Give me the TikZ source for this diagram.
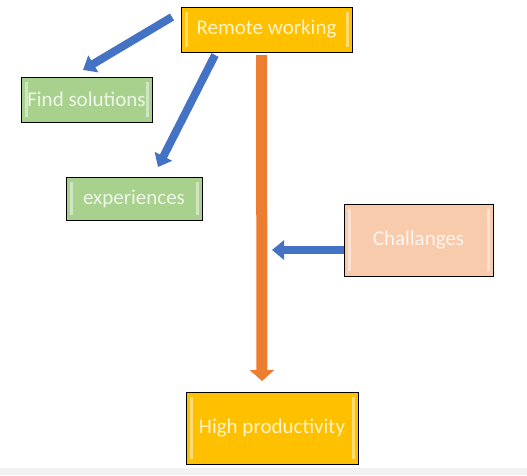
\documentclass[tikz,border=0pt]{standalone}
\usepackage{fontspec}
\setmainfont{Carlito}
\usetikzlibrary{arrows.meta,calc,positioning}

\definecolor{boxgold}{HTML}{FFC000}
\definecolor{boxgreen}{HTML}{A9D18E}
\definecolor{boxpeach}{HTML}{F8CBAD}
\definecolor{arrblue}{HTML}{4472C4}
\definecolor{arrorange}{HTML}{ED7D31}

\begin{document}
\begin{tikzpicture}[
        x=1pt, y=-1pt,
        every node/.style={font=\fontsize{21}{25}\selectfont},
        box/.style={draw=black, line width=1pt, fill=#1, text=white!80!#1,
            inner sep=0pt, outer sep=0pt,
            path picture={
                \draw[white!45!#1, line width=3pt]
                    ([xshift=5pt,yshift=-5pt]path picture bounding box.north west) --
                    ([xshift=5pt,yshift=5pt]path picture bounding box.south west);
                \draw[white!45!#1, line width=3pt]
                    ([xshift=-5pt,yshift=-5pt]path picture bounding box.north east) --
                    ([xshift=-5pt,yshift=5pt]path picture bounding box.south east);
            }},
        blue arrow/.style={arrblue, line width=8pt, -{Triangle[length=12pt,width=19pt]}},
        orange arrow/.style={arrorange, line width=11pt, -{Triangle[length=11pt,width=24pt]}}
    ]
    % page and bottom strip
    \useasboundingbox (0,0) rectangle (527,475);
    \fill[white] (0,0) rectangle (527,475);
    \fill[black!5] (0,468) rectangle (527,475);
    % boxes
    \node[box=boxgold, minimum width=171pt, minimum height=45pt] (rw) at (266.5,29.5) {Remote working};
    \node[box=boxgreen, minimum width=131pt, minimum height=45pt] (fs) at (86.5,99.5) {Find solutions};
    \node[box=boxgreen, minimum width=136pt, minimum height=43pt] (ex) at (134,198.5) {experiences};
    \node[box=boxpeach, minimum width=149pt, minimum height=72pt] (ch) at (418.5,240) {Challanges};
    \node[box=boxgold, minimum width=172pt, minimum height=72pt] (hp) at (272,428) {High productivity};
    % arrows
    \draw[orange arrow] ($(rw.south)+(-5,3)$) -- ($(hp.north)+(-10,-11)$);
    \draw[blue arrow] ($(rw.west)+(-9,-12.5)$) -- ($(fs.north)+(-3.5,-7)$);
    \draw[blue arrow] ($(rw.south)+(-51.5,3)$) -- ($(ex.north)+(24,-10)$);
    \draw[blue arrow] ($(ch.west)+(0,10)$) -- ($(ch.west)+(-72,10)$);
\end{tikzpicture}
\end{document}
